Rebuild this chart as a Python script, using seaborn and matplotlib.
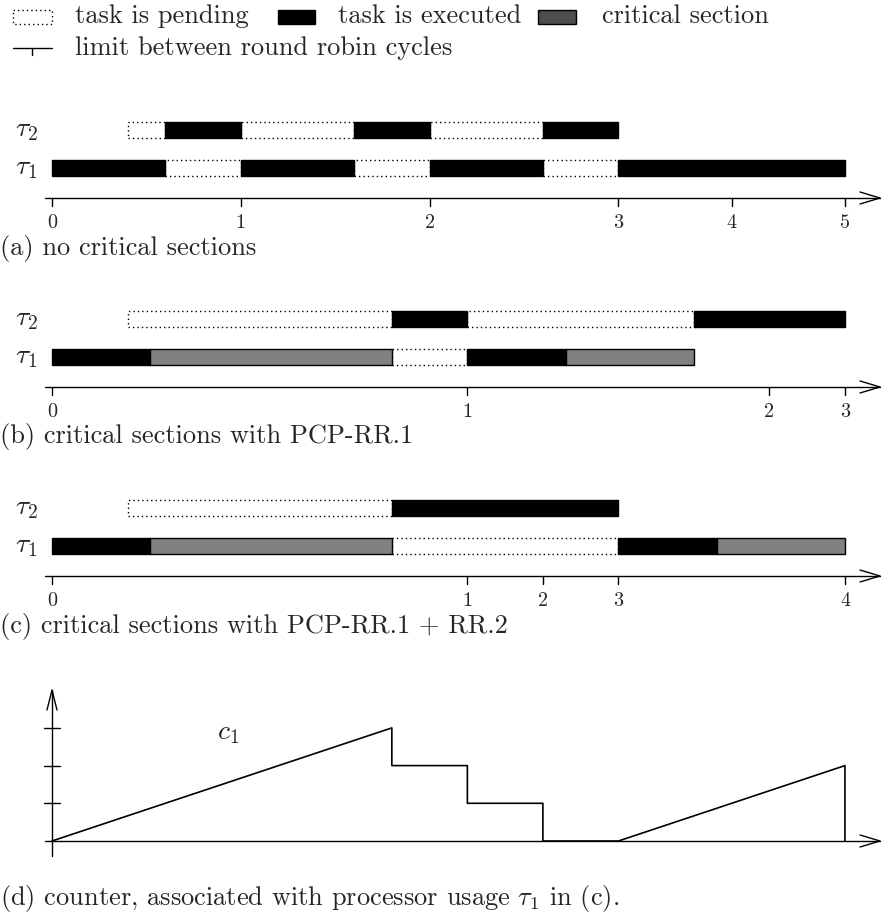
import matplotlib
matplotlib.use("Agg")
import matplotlib.pyplot as plt
from matplotlib.patches import Rectangle
import seaborn as sns
import pandas as pd

sns.set_theme(style="white")
plt.rcParams["font.family"] = ["cmr10"]
plt.rcParams["mathtext.fontset"] = "cm"
plt.rcParams["axes.unicode_minus"] = False

# ---------------- data (time in half-quantum units) ----------------
A_T1_EDGES = [0, 3, 5, 8, 10, 13, 15, 18, 21]
A_T1_STATES = ["exec", "pend", "exec", "pend", "exec", "pend", "exec", "exec"]
A_T2_EDGES = [2, 3, 5, 8, 10, 13, 15]
A_T2_STATES = ["pend", "exec", "pend", "exec", "pend", "exec"]
A_TICKS = [0, 5, 10, 15, 18, 21]
A_TICK_LABELS = ["0", "1", "2", "3", "4", "5"]

B_T1_EDGES = [0, 2.6, 9, 11, 13.6, 17]
B_T1_STATES = ["exec", "cs", "pend", "exec", "cs"]
B_T2_EDGES = [2, 9, 11, 17, 19, 21]
B_T2_STATES = ["pend", "exec", "pend", "exec", "exec"]
B_TICKS = [0, 11, 19, 21]
B_TICK_LABELS = ["0", "1", "2", "3"]

C_T1_EDGES = [0, 2.6, 9, 15, 17.6, 21]
C_T1_STATES = ["exec", "cs", "pend", "exec", "cs"]
C_T2_EDGES = [2, 9, 11, 13, 15]
C_T2_STATES = ["pend", "exec", "exec", "exec"]
C_TICKS = [0, 11, 13, 15, 21]
C_TICK_LABELS = ["0", "1", "2", "3", "4"]

D_TIME = [0, 9, 9, 11, 11, 13, 13, 15, 21, 21]
D_COUNTER = [0, 3, 2, 2, 1, 1, 0, 0, 2, 0]
D_YTICKS = [1, 2, 3]

CAPTIONS = ["(a) no critical sections",
            "(b) critical sections with PCP-RR.1",
            "(c) critical sections with PCP-RR.1 + RR.2"]
CAPTION_D = r"(d) counter, associated with processor usage $\tau_1$ in (c)."

LEGEND_LABELS = ["task is pending", "task is executed", "critical section",
                 "limit between round robin cycles"]

# ---------------- layout ----------------
W, H = 883, 919
U = 37.76          # px per time unit
X0 = 52.0          # px of t = 0


def px2t(p):
    return (p - X0) / U


XLIM = (px2t(0), px2t(W))
TXT = 19
TICKFS = 14.5

fig = plt.figure(figsize=(W / 100, H / 100), dpi=100)

# legend (pixel coordinates)
lax = fig.add_axes([0, 0, 1, 1])
lax.set_xlim(0, W)
lax.set_ylim(H, 0)
lax.axis("off")
lax.patch.set_alpha(0)
lax.add_patch(Rectangle((13, 10), 39, 14, facecolor="white", edgecolor="black",
                        lw=1.0, ls=(0, (1, 2.2))))
lax.text(75, 16, LEGEND_LABELS[0], fontsize=TXT, va="center", ha="left")
lax.add_patch(Rectangle((278, 10), 37, 14, facecolor="black", edgecolor="black", lw=1.0))
lax.text(338, 16, LEGEND_LABELS[1], fontsize=TXT, va="center", ha="left")
lax.add_patch(Rectangle((538, 10), 38, 14, facecolor="#4d4d4d", edgecolor="black", lw=1.0))
lax.text(602, 16, LEGEND_LABELS[2], fontsize=TXT, va="center", ha="left")
lax.plot([13, 52], [48, 48], color="black", lw=1.0)
lax.plot([32, 32], [48, 55], color="black", lw=1.0)
lax.text(75, 48, LEGEND_LABELS[3], fontsize=TXT, va="center", ha="left")

STYLE = {
    "pend": dict(facecolor="white", edgecolor="black", lw=1.0, ls=(0, (1, 2.2))),
    "exec": dict(facecolor="black", edgecolor="black", lw=1.0),
    "cs": dict(facecolor="#808080", edgecolor="black", lw=1.0),
}

panels = [
    (A_T1_EDGES, A_T1_STATES, A_T2_EDGES, A_T2_STATES, A_TICKS, A_TICK_LABELS),
    (B_T1_EDGES, B_T1_STATES, B_T2_EDGES, B_T2_STATES, B_TICKS, B_TICK_LABELS),
    (C_T1_EDGES, C_T1_STATES, C_T2_EDGES, C_T2_STATES, C_TICKS, C_TICK_LABELS),
]

ROW = 38.0    # px per row unit
BAR_H = 16.0 / ROW


def draw_row(ax, y, edges, states):
    order = sorted(range(len(states)), key=lambda i: 0 if states[i] == "pend" else 1)
    for i in order:
        st = edges[i]
        en = edges[i + 1]
        ax.barh(y, en - st, left=st, height=BAR_H, **STYLE[states[i]])


for k, (e1, s1, e2, s2, ticks, tlabels) in enumerate(panels):
    yc1 = 168 + 189 * k
    top = yc1 - 2.5 * ROW
    ax = fig.add_axes([0, 1 - (top + 5 * ROW) / H, 1, 5 * ROW / H])
    ax.set_xlim(*XLIM)
    ax.set_ylim(-2.5, 2.5)
    ax.axis("off")
    ax.patch.set_alpha(0)
    draw_row(ax, 0, e1, s1)
    draw_row(ax, 1, e2, s2)
    ax.text(px2t(15), 1, r"$\tau_2$", fontsize=TXT + 1, va="center", ha="left")
    ax.text(px2t(15), 0, r"$\tau_1$", fontsize=TXT + 1, va="center", ha="left")
    ya = -30 / ROW
    ax.plot([px2t(45), px2t(880)], [ya, ya], color="black", lw=1.0)
    ax.plot([px2t(860), px2t(880), px2t(860)], [ya + 6 / ROW, ya, ya - 6 / ROW],
            color="black", lw=1.0)
    for t, lab in zip(ticks, tlabels):
        ax.plot([t, t], [ya, ya - 8 / ROW], color="black", lw=1.0)
        ax.text(t, ya - 25 / ROW, lab, fontsize=TICKFS, ha="center", va="center")
    ax.text(px2t(0), -80 / ROW, CAPTIONS[k], fontsize=TXT, ha="left", va="center")

# ---------------- panel (d) ----------------
VU = 37.7
YB = 841.0
d_top, d_bot = 670, 915
ax = fig.add_axes([0, 1 - d_bot / H, 1, (d_bot - d_top) / H])
ax.set_xlim(*XLIM)
ymin = -(d_bot - YB) / VU
ymax = (YB - d_top) / VU
ax.set_ylim(ymin, ymax)
ax.axis("off")
ax.patch.set_alpha(0)
df = pd.DataFrame({"t": D_TIME, "c": D_COUNTER})
sns.lineplot(data=df, x="t", y="c", estimator=None, sort=False, color="black",
             lw=1.2, ax=ax)
# axes
ax.plot([px2t(45), px2t(880)], [0, 0], color="black", lw=1.0)
ax.plot([px2t(860), px2t(880), px2t(860)], [6 / VU, 0, -6 / VU], color="black", lw=1.0)
ax.plot([0, 0], [-15 / VU, (YB - 690) / VU], color="black", lw=1.0)
ax.plot([px2t(47), 0, px2t(57)], [(YB - 710) / VU, (YB - 690) / VU, (YB - 710) / VU],
        color="black", lw=1.0)
for v in D_YTICKS:
    ax.plot([px2t(44), px2t(60)], [v, v], color="black", lw=1.0)
ax.text(px2t(228), 2.86, r"$c_1$", fontsize=TXT + 1, ha="center", va="center")
ax.text(px2t(0), -(898 - YB) / VU, CAPTION_D, fontsize=TXT, ha="left", va="center")

fig.savefig("out.png", dpi=100)
